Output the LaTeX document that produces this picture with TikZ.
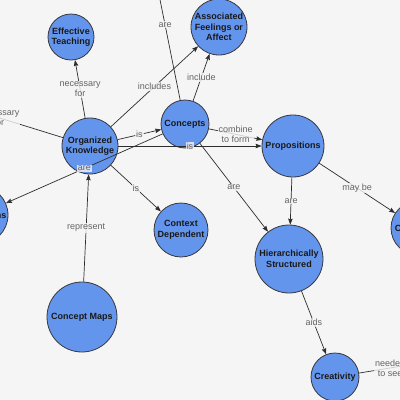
\documentclass[tikz,border=0pt]{standalone}
\usepackage{fontspec}
\setmainfont{Liberation Sans}
\usetikzlibrary{arrows.meta}
\definecolor{bgc}{RGB}{245,245,245}
\definecolor{nodefill}{RGB}{100,149,237}
\definecolor{nodeline}{RGB}{55,55,60}
\definecolor{lblgray}{RGB}{100,100,100}
\definecolor{edgec}{RGB}{45,45,45}
\tikzset{
  cnode/.style={circle, draw=nodeline, line width=0.8pt, fill=nodefill, inner sep=0pt,
    align=center, text=black!90, font=\fontsize{9}{10.5}\selectfont\bfseries},
  edge/.style={draw=edgec, line width=0.7pt, -{Stealth[length=6pt,width=4.5pt,inset=0.8pt]}},
  lbl/.style={fill=bgc, fill opacity=0.8, text opacity=1, text=lblgray, inner sep=1pt,
    align=center, font=\fontsize{9}{10}\selectfont}
}
\begin{document}
\begin{tikzpicture}[x=1pt,y=-1pt]
\useasboundingbox (0,0) rectangle (400,400);
\fill[bgc] (0,0) rectangle (400,400);
\clip (0,0) rectangle (400,400);
% nodes
\node[cnode, minimum size=46pt] (ET) at (71,37) {Effective\\Teaching};
\node[cnode, minimum size=56pt] (AF) at (219,27) {Associated\\Feelings or\\Affect};
\node[cnode, minimum size=56pt] (OK) at (90,146) {Organized\\Knowledge};
\node[cnode, minimum size=48pt] (C) at (185,124) {Concepts};
\node[cnode, minimum size=62pt] (P) at (293,146) {Propositions};
\node[cnode, minimum size=54pt] (CD) at (181,230) {Context\\Dependent};
\node[cnode, minimum size=70pt] (CM) at (82,317) {Concept Maps};
\node[cnode, minimum size=68pt] (HS) at (289,259) {Hierarchically\\Structured};
\node[cnode, minimum size=48pt] (CR) at (335,377) {Creativity};
\node[cnode, minimum size=58pt] (AB) at (-21,215) {Abstractions};
\node[cnode, minimum size=54pt] (CL) at (418,228) {Crosslinks};
\node[cnode, minimum size=60pt] (IR) at (451,358) {};
\node[cnode, minimum size=60pt] (PR) at (144,-80) {};
\node[cnode, minimum size=60pt] (EL) at (-94,89) {};
% edges
\draw[edge] (OK) -- node[lbl]{necessary\\for} (ET);
\draw[edge] (OK) -- node[lbl]{includes} (AF);
\draw[edge] (C) -- node[lbl]{include} (AF);
\draw[edge] (OK) -- node[lbl]{is} (C);
\draw[edge] (OK) -- node[lbl]{is} (P);
\draw[edge] (C) -- node[lbl]{combine\\to form} (P);
\draw[edge] (C) -- node[lbl]{are} (AB);
\draw[edge] (C) -- node[lbl]{are} (HS);
\draw[edge] (P) -- node[lbl]{are} (HS);
\draw[edge] (P) -- node[lbl]{may be} (CL);
\draw[edge] (OK) -- node[lbl]{is} (CD);
\draw[edge] (CM) -- node[lbl]{represent} (OK);
\draw[edge] (HS) -- node[lbl]{aids} (CR);
\draw[edge] (CR) -- node[lbl]{needed\\to see} (IR);
\draw[edge] (C) -- node[lbl]{are} (PR);
\draw[edge] (OK) -- node[lbl]{necessary\\for} (EL);
\end{tikzpicture}
\end{document}
